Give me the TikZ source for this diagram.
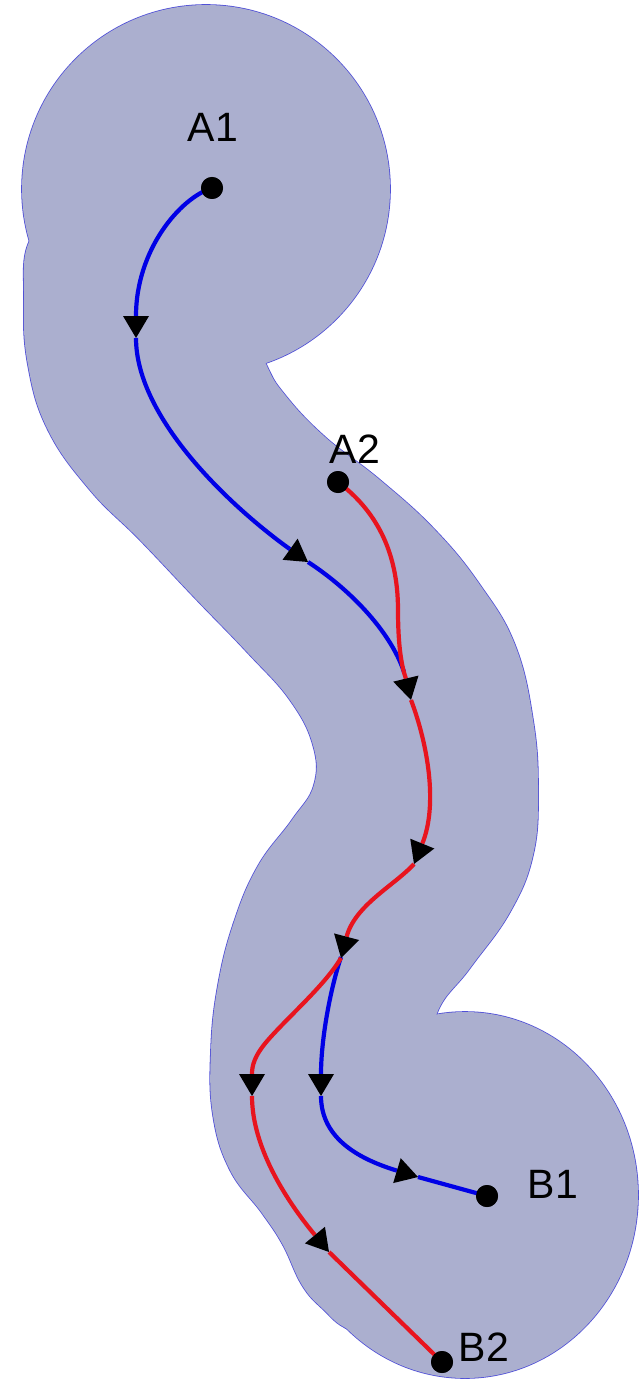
\documentclass[tikz,border=0pt]{standalone}
\usepackage{fontspec}
\setmainfont{Liberation Sans}
\usetikzlibrary{arrows.meta}
\definecolor{regionfill}{RGB}{171,175,207}
\definecolor{regionedge}{RGB}{80,80,215}
\definecolor{pathblue}{RGB}{0,0,230}
\definecolor{pathred}{RGB}{232,20,30}
\begin{document}
\begin{tikzpicture}[x=1pt,y=-1pt,
  tipmark/.style={-{Triangle[length=22pt,width=26pt,color=black,line width=0pt]}},
  bluepath/.style={draw=pathblue,line width=4.2pt},
  redpath/.style={draw=pathred,line width=4.2pt},
  dot/.style={circle,fill=black,inner sep=0pt,minimum size=22pt},
  lab/.style={font=\fontsize{41}{41}\selectfont,inner sep=0pt},
  edgestroke/.style={draw=regionedge,line width=1.6pt,line join=round}]
\useasboundingbox (0,0) rectangle (643,1380);
% region: outlines first, fills on top (union with a single outline)
\draw[edgestroke] (206,189) circle[radius=184pt];
\draw[edgestroke] (465,1195) ellipse[x radius=173pt,y radius=183pt];
\draw[edgestroke] plot[smooth cycle,tension=0.7] coordinates {(70,205) (30,240) (24,300) (28,365) (48,430) (90,490) (140,540) (195,598) (248,653) (290,700) (313,745) (314,785) (292,820) (258,866) (234,922) (218,985) (211,1050) (213,1115) (230,1170) (262,1213) (283,1245) (302,1285) (323,1309) (350,1330) (400,1343) (430,1250) (430,1070) (437,1013) (470,968) (510,912) (533,855) (538,790) (533,720) (515,645) (480,585) (435,530) (380,480) (325,437) (285,395) (265,362) (235,290) (150,205)};
\fill[regionfill] (206,189) circle[radius=184pt];
\fill[regionfill] (465,1195) ellipse[x radius=173pt,y radius=183pt];
\fill[regionfill] plot[smooth cycle,tension=0.7] coordinates {(70,205) (30,240) (24,300) (28,365) (48,430) (90,490) (140,540) (195,598) (248,653) (290,700) (313,745) (314,785) (292,820) (258,866) (234,922) (218,985) (211,1050) (213,1115) (230,1170) (262,1213) (283,1245) (302,1285) (323,1309) (350,1330) (400,1343) (430,1250) (430,1070) (437,1013) (470,968) (510,912) (533,855) (538,790) (533,720) (515,645) (480,585) (435,530) (380,480) (325,437) (285,395) (265,362) (235,290) (150,205)};
% end points
\node[dot] (A1) at (212,188) {};
\node[dot] (A2) at (338,482) {};
\node[dot] (B1) at (487,1196) {};
\node[dot] (B2) at (442,1362) {};
\node[lab] (A1lab) at (213,127) {A1};
\node[lab] (A2lab) at (355,449) {A2};
\node[lab] (B1lab) at (553,1184) {B1};
\node[lab] (B2lab) at (484,1347) {B2};
% blue path points
\coordinate (b1) at (136,338);
\coordinate (b2) at (308,562);
\coordinate (j1) at (404,672);
\coordinate (j2) at (341,957);
\coordinate (b4) at (321,1096);
\coordinate (b5) at (418,1177);
% red path points
\coordinate (r1) at (411,700);
\coordinate (r2) at (414,864);
\coordinate (r3) at (341,958);
\coordinate (rk) at (268,1040);
\coordinate (r4) at (252,1096);
\coordinate (r5) at (329,1252);
% blue path
\draw[bluepath,tipmark] (A1.center) .. controls (180,198) and (136,250) .. (b1);
\draw[bluepath,tipmark] (b1) .. controls (136,420) and (235,510) .. (b2);
\draw[bluepath] (b2) .. controls (348,588) and (390,630) .. (j1);
\draw[bluepath,tipmark] (j2) .. controls (330,990) and (321,1040) .. (b4);
\draw[bluepath,tipmark] (b4) .. controls (321,1140) and (362,1160) .. (b5);
\draw[bluepath] (b5) -- (B1.center);
% red path
\draw[redpath,tipmark] (A2.center) .. controls (375,510) and (398,550) .. (398,610) .. controls (398,660) and (405,675) .. (r1);
\draw[redpath,tipmark] (r1) .. controls (428,745) and (438,805) .. (r2);
\draw[redpath,tipmark] (r2) .. controls (395,885) and (355,905) .. (r3);
\draw[redpath,tipmark] (r3) .. controls (325,985) and (290,1015) .. (rk) .. controls (254,1056) and (252,1066) .. (r4);
\draw[redpath,tipmark] (r4) .. controls (252,1150) and (290,1205) .. (r5);
\draw[redpath] (r5) -- (B2.center);
% dots on top of the path ends
\node[dot] at (A1) {};
\node[dot] at (A2) {};
\node[dot] at (B1) {};
\node[dot] at (B2) {};
\end{tikzpicture}
\end{document}
